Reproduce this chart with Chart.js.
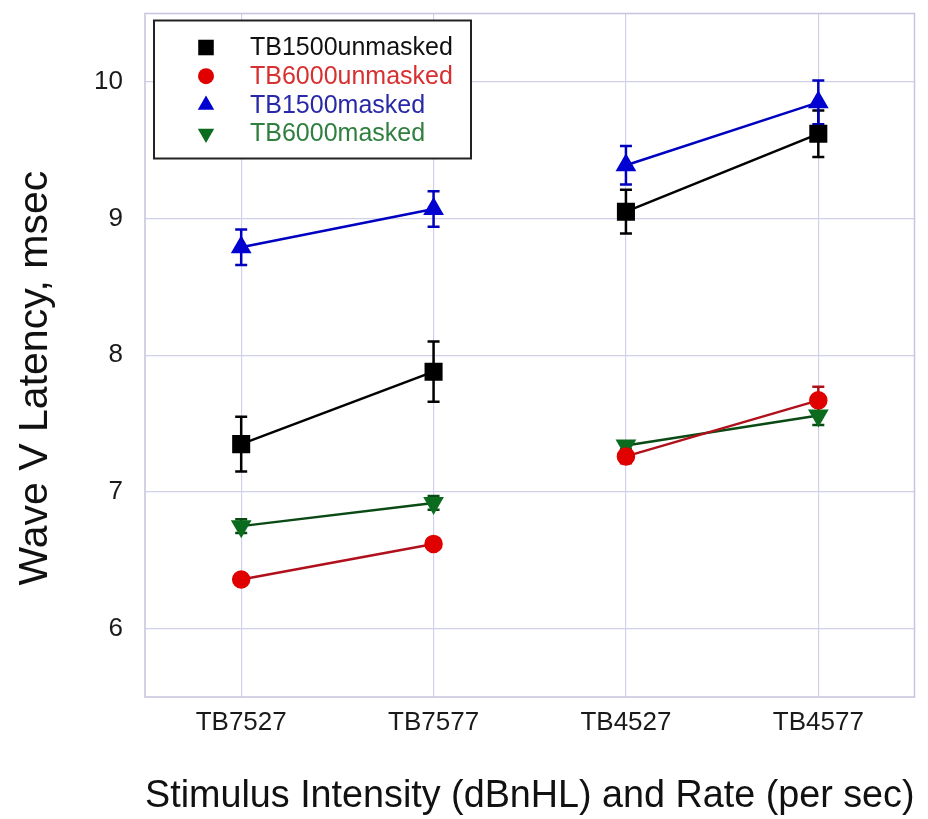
<!doctype html>
<html lang="en">
<head>
  <meta charset="utf-8">
  <title>Wave V Latency</title>
  <script src="https://cdn.jsdelivr.net/npm/chart.js"></script>
  <style>
    body { margin: 0; background: #fff; }
    #wrap { width: 928px; height: 819px; }
  </style>
</head>
<body>
  <div id="wrap"><canvas id="myChart" width="928" height="819"></canvas></div>
  <script>
    // categories (x axis)
    const conditions = ['TB7527', 'TB7577', 'TB4527', 'TB4577'];

    // mean latencies, msec
    const tb1500Unmasked = [7.35, 7.88, 9.05, 9.62];
    const tb6000Unmasked = [6.36, 6.62, 7.26, 7.67];
    const tb1500Masked   = [8.79, 9.07, 9.39, 9.85];
    const tb6000Masked   = [6.75, 6.92, 7.34, 7.56];

    // error bar half-lengths
    const tb1500UnmaskedErr = [0.20, 0.22, 0.16, 0.17];
    const tb6000UnmaskedErr = [0.03, 0.03, 0.05, 0.10];
    const tb1500MaskedErr   = [0.13, 0.13, 0.14, 0.16];
    const tb6000MaskedErr   = [0.05, 0.05, 0.03, 0.07];

    const yTicks = [6, 7, 8, 9, 10];

    const FONT = "'Liberation Sans', Arial, sans-serif";
    const GRID = '#d0d0ec';

    function series(label, data, err, color, lineColor, textColor, style, radius, rotation) {
      return {
        label: label,
        data: data,
        errors: err,
        textColor: textColor,
        borderColor: lineColor,
        backgroundColor: color,
        pointBackgroundColor: color,
        pointBorderColor: color,
        pointStyle: style,
        pointRadius: radius,
        pointRotation: rotation || 0,
        borderWidth: 2.5,
        // no line between the two rate groups
        segment: {
          borderColor: ctx => ctx.p0DataIndex === 1 ? 'rgba(0,0,0,0)' : undefined
        }
      };
    }

    const datasets = [
      series('TB1500unmasked', tb1500Unmasked, tb1500UnmaskedErr, '#000000', '#000000', '#111111', 'rect', 11),
      series('TB6000unmasked', tb6000Unmasked, tb6000UnmaskedErr, '#e00000', '#b0101c', '#d83030', 'circle', 8),
      series('TB1500masked', tb1500Masked, tb1500MaskedErr, '#0000d0', '#0000c0', '#2828a8', 'triangle', 9.5),
      series('TB6000masked', tb6000Masked, tb6000MaskedErr, '#0b6b1e', '#0a4a14', '#2f7f3f', 'triangle', 9.5, 180)
    ];

    // frame round the plot area
    const frame = {
      id: 'frame',
      beforeDatasetsDraw(chart) {
        const { ctx, chartArea: a } = chart;
        ctx.save();
        ctx.strokeStyle = '#c4c4dc';
        ctx.lineWidth = 1.5;
        ctx.strokeRect(a.left, a.top, a.right - a.left, a.bottom - a.top);
        ctx.restore();
      }
    };

    // vertical error bars with caps
    const errorBars = {
      id: 'errorBars',
      beforeDatasetsDraw(chart) {
        const { ctx, scales: { x, y } } = chart;
        ctx.save();
        chart.data.datasets.forEach((ds) => {
          ctx.strokeStyle = ds.borderColor;
          ctx.lineWidth = 2.5;
          ds.data.forEach((v, i) => {
            const e = ds.errors[i];
            const px = x.getPixelForValue(i);
            const top = y.getPixelForValue(v + e);
            const bot = y.getPixelForValue(v - e);
            ctx.beginPath();
            ctx.moveTo(px, top); ctx.lineTo(px, bot);
            ctx.moveTo(px - 6, top); ctx.lineTo(px + 6, top);
            ctx.moveTo(px - 6, bot); ctx.lineTo(px + 6, bot);
            ctx.stroke();
          });
        });
        ctx.restore();
      }
    };

    // boxed legend inside the plot, top left
    const boxLegend = {
      id: 'boxLegend',
      afterDraw(chart) {
        const { ctx, chartArea: a } = chart;
        const left = a.left + 9, top = a.top + 7, w = 317, h = 138;
        ctx.save();
        ctx.fillStyle = '#fff';
        ctx.fillRect(left, top, w, h);
        ctx.strokeStyle = '#222';
        ctx.lineWidth = 2;
        ctx.strokeRect(left, top, w, h);
        ctx.font = "25px 'Liberation Sans', Arial, sans-serif";
        ctx.textBaseline = 'middle';
        chart.data.datasets.forEach((ds, i) => {
          const cy = top + 27 + i * 28.7;
          const style = {
            pointStyle: ds.pointStyle,
            radius: ds.pointRadius,
            rotation: ds.pointRotation,
            borderWidth: 0
          };
          ctx.fillStyle = ds.pointBackgroundColor;
          ctx.strokeStyle = ds.pointBackgroundColor;
          Chart.helpers.drawPoint(ctx, style, left + 52, cy);
          ctx.fillStyle = ds.textColor;
          ctx.fillText(ds.label, left + 96, cy + 1);
        });
        ctx.restore();
      }
    };

    new Chart(document.getElementById('myChart'), {
      type: 'line',
      data: { labels: conditions, datasets: datasets },
      plugins: [frame, errorBars, boxLegend],
      options: {
        responsive: false,
        animation: false,
        layout: { padding: { top: 12, right: 13, left: 0, bottom: 0 } },
        plugins: { legend: { display: false }, tooltip: { enabled: false } },
        elements: { line: { tension: 0 } },
        scales: {
          x: {
            type: 'category',
            offset: true,
            afterFit: s => { s.height = 122; s.paddingLeft = 0; s.paddingRight = 0; },
            grid: { offset: false, color: GRID, lineWidth: 1.2, drawTicks: false },
            border: { display: false },
            ticks: {
              padding: 10,
              color: '#1a1a1a',
              font: { family: FONT, size: 26 }
            },
            title: {
              display: true,
              text: 'Stimulus Intensity (dBnHL) and Rate (per sec)',
              color: '#111',
              font: { family: FONT, size: 38 },
              padding: { bottom: 0 }
            }
          },
          y: {
            min: 5.5,
            max: 10.5,
            afterFit: s => { s.width = 145; s.paddingTop = 0; s.paddingBottom = 0; },
            afterBuildTicks: s => { s.ticks = yTicks.map(v => ({ value: v })); },
            grid: { color: GRID, lineWidth: 1.2, drawTicks: false },
            border: { display: false },
            ticks: {
              padding: 22,
              color: '#1a1a1a',
              font: { family: FONT, size: 26 }
            },
            title: {
              display: true,
              // trailing spaces push the title a little below centre, as in the original
              text: 'Wave V Latency, msec    ',
              color: '#111',
              font: { family: FONT, size: 41 },
              padding: { top: 11 }
            }
          }
        }
      }
    });
  </script>
</body>
</html>
